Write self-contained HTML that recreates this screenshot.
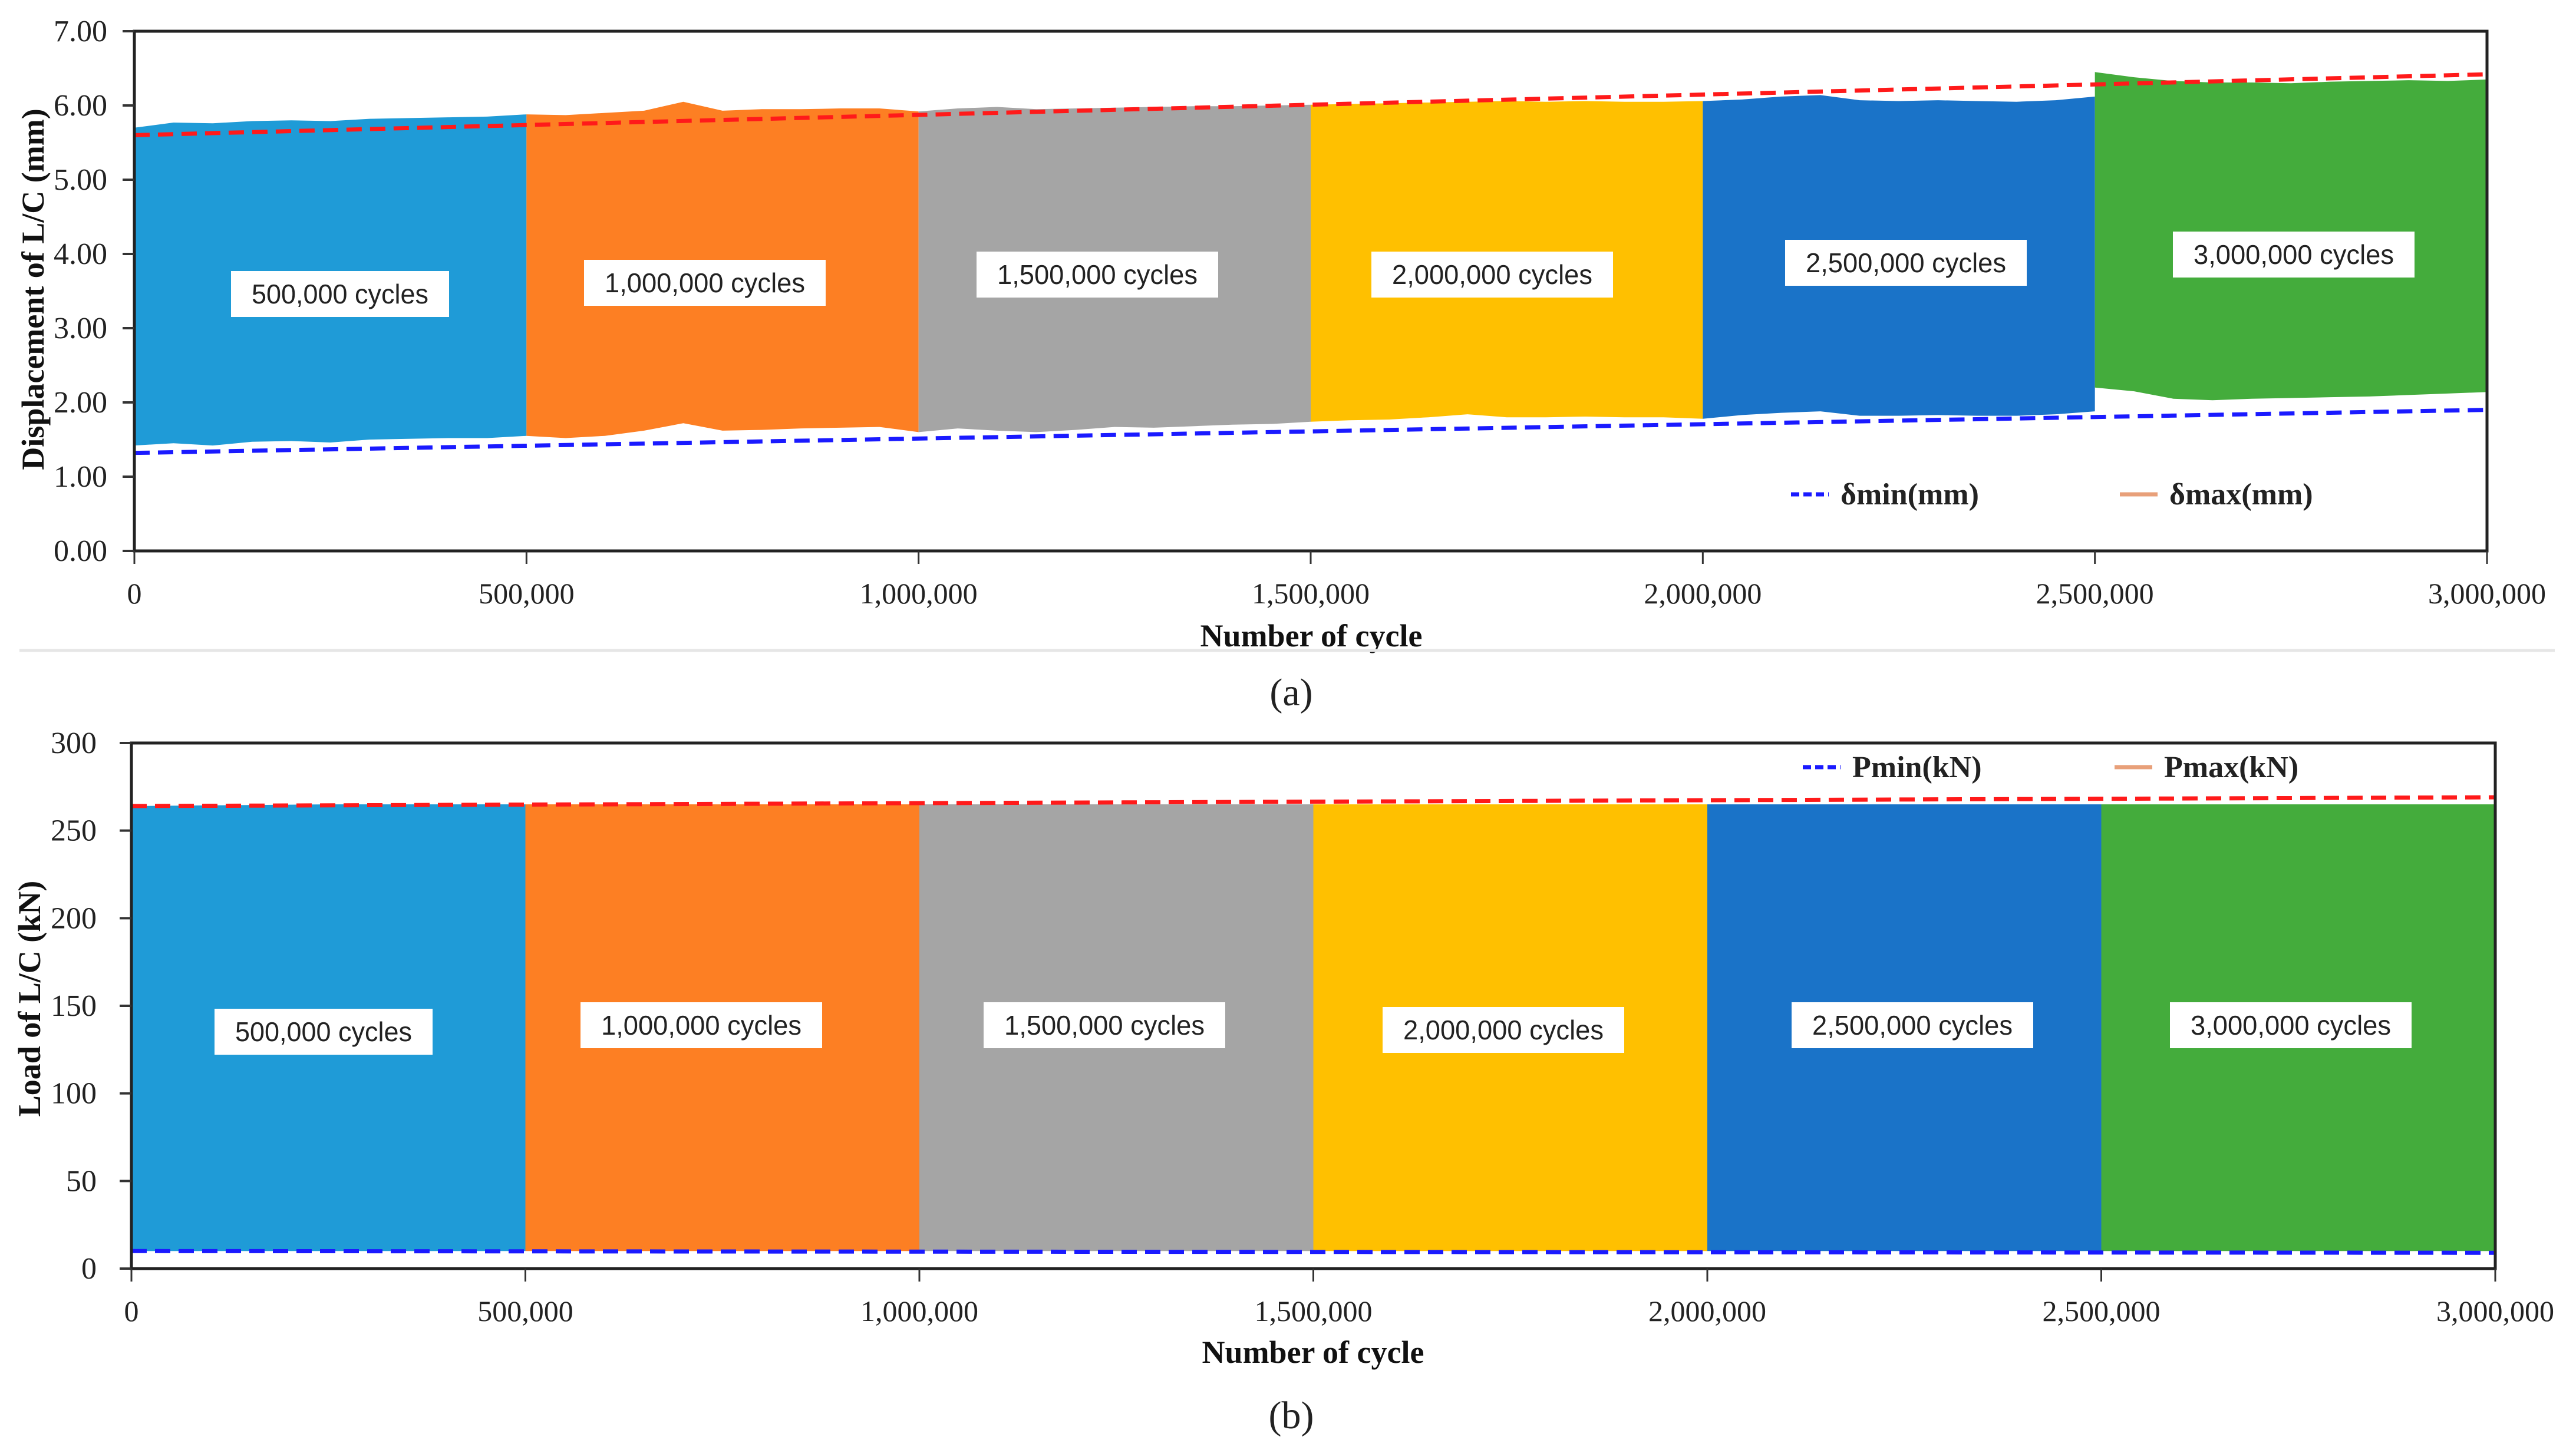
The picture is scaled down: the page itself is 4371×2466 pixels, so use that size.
<!DOCTYPE html>
<html><head><meta charset="utf-8"><style>
html,body{margin:0;padding:0;background:#fff;}
svg{display:block;}
.tk{font-family:"Liberation Serif",serif;font-size:50px;fill:#222;}
.ti{font-family:"Liberation Serif",serif;font-size:54px;font-weight:bold;fill:#111;}
.lg{font-family:"Liberation Serif",serif;font-size:52px;font-weight:bold;fill:#222;}
.lb{font-family:"Liberation Sans","DejaVu Sans",sans-serif;font-size:46px;fill:#222;}
</style></head><body>
<svg id="chart" width="4371" height="2466" viewBox="0 0 4371 2466" xmlns="http://www.w3.org/2000/svg"></svg>
<script>
// ---- data ----
const segColors = ["#1f9bd7","#fd7f23","#a5a5a5","#ffc000","#1a73c8","#44ac3c"];
const segLabels = ["500,000 cycles","1,000,000 cycles","1,500,000 cycles","2,000,000 cycles","2,500,000 cycles","3,000,000 cycles"];
const xTickValues = [0,500000,1000000,1500000,2000000,2500000,3000000];
const xTickLabels = ["0","500,000","1,000,000","1,500,000","2,000,000","2,500,000","3,000,000"];
const yTicksA = [0,1,2,3,4,5,6,7];
const yTickLabelsA = ["0.00","1.00","2.00","3.00","4.00","5.00","6.00","7.00"];
const yTicksB = [0,50,100,150,200,250,300];
const yTickLabelsB = ["0","50","100","150","200","250","300"];
// displacement envelope sampled every 50,000 cycles
const dispMax = [5.70,5.77,5.76,5.79,5.80,5.79,5.82,5.83,5.84,5.85,5.88,
 5.87,5.90,5.93,6.05,5.93,5.95,5.95,5.96,5.96,5.92,
 5.96,5.98,5.95,5.96,5.97,5.98,5.99,5.99,6.00,6.01,
 6.02,6.03,6.04,6.05,6.06,6.05,6.06,6.05,6.05,6.06,
 6.08,6.12,6.14,6.07,6.06,6.07,6.06,6.05,6.07,6.12,
 6.38,6.33,6.31,6.31,6.30,6.32,6.33,6.34,6.33,6.35];
const dispMin = [1.42,1.45,1.42,1.47,1.48,1.46,1.50,1.51,1.52,1.52,1.55,
 1.52,1.55,1.62,1.72,1.62,1.63,1.65,1.66,1.67,1.60,
 1.65,1.62,1.60,1.63,1.67,1.66,1.68,1.70,1.71,1.74,
 1.76,1.77,1.80,1.84,1.80,1.80,1.81,1.80,1.80,1.78,
 1.83,1.86,1.88,1.82,1.82,1.83,1.82,1.82,1.84,1.88,
 2.15,2.05,2.03,2.05,2.06,2.07,2.08,2.10,2.12,2.14];
const lastSegStartMax = 6.45, lastSegStartMin = 2.20;
const dispStep = 50000;
// load envelope sampled every 250,000 cycles
const loadMax = [264,265,265,265,265,265,265,265,265,265,265,265,265];
const loadMin = [10,10,10,10,10,10,10,10,10,10,10,10,10];
const loadStep = 250000;
const trendMaxA = [5.6,6.42], trendMinA = [1.32,1.9];
const trendMaxB = [264,269], trendMinB = [10,9];

const NS="http://www.w3.org/2000/svg";
const svg=document.getElementById('chart');
function el(tag,attrs,parent){const e=document.createElementNS(NS,tag);for(const k in attrs)e.setAttribute(k,attrs[k]);(parent||svg).appendChild(e);return e;}
function txt(s,attrs,parent){const e=el('text',attrs,parent);e.textContent=s;return e;}

function drawChart(cfg){
  const g=el('g',{});
  
  
  const X=v=>cfg.x0+(v/3000000)*(cfg.x1-cfg.x0);
  const Y=v=>cfg.y0-(v-cfg.ymin)/(cfg.ymax-cfg.ymin)*(cfg.y0-cfg.y1);
  const per=500000/cfg.step;
  for(let s=0;s<6;s++){
    let pts=[];
    for(let i=s*per;i<=(s+1)*per;i++){
      let v=cfg.maxA[i];
      if(s===5&&i===s*per&&cfg.lastMax!==undefined) v=cfg.lastMax;
      pts.push(X(i*cfg.step)+','+Y(v));
    }
    for(let i=(s+1)*per;i>=s*per;i--){
      let v=cfg.minA[i];
      if(s===5&&i===s*per&&cfg.lastMin!==undefined) v=cfg.lastMin;
      pts.push(X(i*cfg.step)+','+Y(v));
    }
    const p=el('polygon',{points:pts.join(' '),fill:segColors[s]},g);
    
    
  }
  const tmax=el('line',{x1:X(0),y1:Y(cfg.tMax[0]),x2:X(3000000),y2:Y(cfg.tMax[1]),stroke:'#ff1a1a','stroke-width':7,'stroke-dasharray':'26,14'},g);
  
  
  const tmin=el('line',{x1:X(0),y1:Y(cfg.tMin[0]),x2:X(3000000),y2:Y(cfg.tMin[1]),stroke:'#1a1aff','stroke-width':7,'stroke-dasharray':'26,14'},g);
  
  
  el('rect',{x:cfg.x0,y:cfg.y1,width:cfg.x1-cfg.x0,height:cfg.y0-cfg.y1,fill:'none',stroke:'#222','stroke-width':5},g);
  cfg.yt.forEach((v,i)=>{
    el('line',{x1:cfg.x0-20,y1:Y(v),x2:cfg.x0,y2:Y(v),stroke:'#333','stroke-width':4},g);
    const t=txt(cfg.ytl[i],{x:cfg.ylabX,y:Y(v)+17,'text-anchor':'end',class:'tk',style:'font-size:52px'},g);
    
    
  });
  xTickValues.forEach((v,i)=>{
    el('line',{x1:X(v),y1:cfg.y0,x2:X(v),y2:cfg.y0+22,stroke:'#333','stroke-width':3},g);
    const t=txt(xTickLabels[i],{x:X(v),y:cfg.xlabY,'text-anchor':'middle',class:'tk'},g);
    
    
  });
  cfg.boxes.forEach((b,i)=>{
    const w=i===0?370:410;
    el('rect',{x:b[0]-w/2,y:b[1]-39,width:w,height:78,fill:'#fff'},g);
    const t=txt(segLabels[i],{x:b[0],y:b[1]+16,'text-anchor':'middle',class:'lb',textLength:w-70,lengthAdjust:'spacingAndGlyphs'},g);
    
    
  });
  el('line',{x1:cfg.lg[0],y1:cfg.lg[2],x2:cfg.lg[0]+64,y2:cfg.lg[2],stroke:'#1a1aff','stroke-width':7,'stroke-dasharray':'14,7'},g);
  const l1=txt(cfg.lgt[0],{x:cfg.lg[0]+84,y:cfg.lg[2]+17,class:'lg'},g);
  
  
  el('line',{x1:cfg.lg[1],y1:cfg.lg[2],x2:cfg.lg[1]+64,y2:cfg.lg[2],stroke:'#e8a07a','stroke-width':7},g);
  const l2=txt(cfg.lgt[1],{x:cfg.lg[1]+84,y:cfg.lg[2]+17,class:'lg'},g);
  
  
  const xt=txt('Number of cycle',{x:cfg.xtitle[0],y:cfg.xtitle[1],'text-anchor':'middle',class:'ti'},g);
  
  
  const yt=txt(cfg.ytitle,{x:0,y:0,'text-anchor':'middle',class:'ti',transform:`translate(${cfg.ytp[0]},${cfg.ytp[1]}) rotate(-90)`},g);
  
  
  const cap=txt(cfg.cap,{x:2191,y:cfg.capY,'text-anchor':'middle',class:'tk',style:'font-size:66px'},g);
  
  
}

drawChart({name:'displacement-chart',x0:228,x1:4220,y0:935,y1:53,ymin:0,ymax:7,step:dispStep,maxA:dispMax,minA:dispMin,lastMax:lastSegStartMax,lastMin:lastSegStartMin,
 tMax:trendMaxA,tMin:trendMinA,yt:yTicksA,ytl:yTickLabelsA,ylabX:182,xlabY:1024,
 boxes:[[577,499],[1196,480],[1862,466],[2532,466],[3234,446],[3892,432]],
 lg:[3039,3597,839],lgt:['δmin(mm)','δmax(mm)'],xtitle:[2225,1097],ytitle:'Displacement of L/C (mm)',ytp:[74,491],cap:'(a)',capY:1197});
el('line',{x1:33,y1:1104,x2:4335,y2:1104,stroke:'#e6e6e6','stroke-width':5});
drawChart({name:'load-chart',x0:223,x1:4234,y0:2153,y1:1261,ymin:0,ymax:300,step:loadStep,maxA:loadMax,minA:loadMin,
 tMax:trendMaxB,tMin:trendMinB,yt:yTicksB,ytl:yTickLabelsB,ylabX:164,xlabY:2242,
 boxes:[[549,1751],[1190,1740],[1874,1740],[2551,1748],[3245,1740],[3887,1740]],
 lg:[3059,3588,1302],lgt:['Pmin(kN)','Pmax(kN)'],xtitle:[2228,2313],ytitle:'Load of L/C (kN)',ytp:[68,1695],cap:'(b)',capY:2424});
</script>
</body></html>
